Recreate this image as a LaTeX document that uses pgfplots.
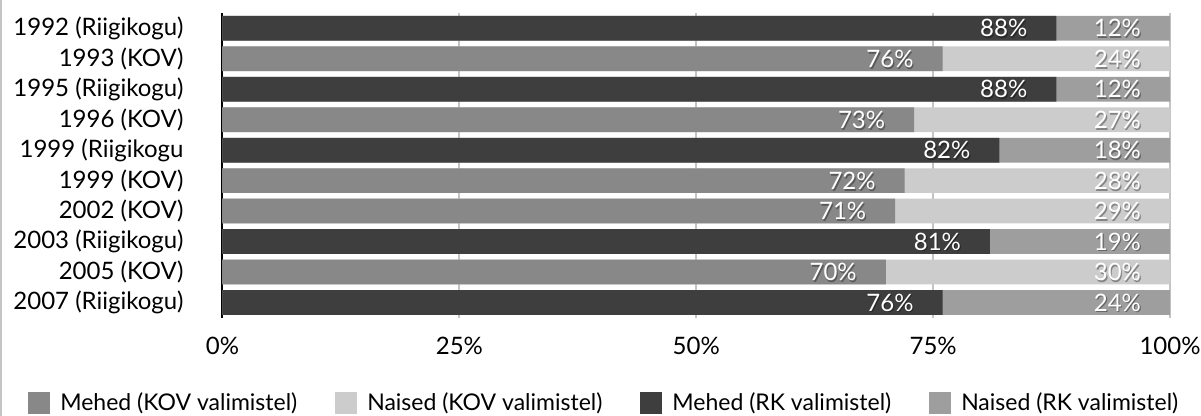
\documentclass[border=0pt]{standalone}
\usepackage{pgfplots}
\usepackage{pgfplotstable}
\pgfplotsset{compat=1.18}
\usepackage{fontspec}
\setmainfont{Lato}
\definecolor{rkm}{HTML}{3D3E3D}
\definecolor{kovm}{HTML}{878887}
\definecolor{kovw}{HTML}{CBCCCB}
\definecolor{rkw}{HTML}{9D9E9D}
\definecolor{gridc}{HTML}{C4C4C4}

\pgfplotstableread{
y x m
0 88 88
2 88 88
4 82 82
7 81 81
9 76 76
}\rkmen
\pgfplotstableread{
y x m
0 100 12
2 100 12
4 100 18
7 100 19
9 100 24
}\rkwomen
\pgfplotstableread{
y x m
1 76 76
3 73 73
5 72 72
6 71 71
8 70 70
}\kovmen
\pgfplotstableread{
y x m
1 100 24
3 100 27
5 100 28
6 100 29
8 100 30
}\kovwomen

\newcommand{\lfont}{\fontsize{11.5}{13}\selectfont}
\newcommand{\tfont}{\fontsize{12}{14}\selectfont}

\pgfplotsset{
  shadowlbl/.style={draw=none, fill=none, forget plot,
    nodes near coords={\pgfmathprintnumber[assume math mode=true]{\pgfplotspointmeta}\%},
    every node near coord/.append style={anchor=east, font=\tfont, text=black, opacity=0.35, xshift=-10.4pt, yshift=-0.9pt}},
  whitelbl/.style={draw=none, fill=none, forget plot,
    nodes near coords={\pgfmathprintnumber[assume math mode=true]{\pgfplotspointmeta}\%},
    every node near coord/.append style={anchor=east, font=\tfont, text=white, xshift=-11pt}},
}

\begin{document}
\begin{tikzpicture}
\path[use as bounding box] (0,0) rectangle (600.5pt,-208pt);
\draw[gridc, line width=0.8pt] (0.4pt,0) -- (0.4pt,-208pt);
\begin{axis}[
  at={(111.25pt,-6.55pt)}, anchor=north west,
  scale only axis, width=473.75pt, height=152.3pt,
  xmin=0, xmax=100, ymin=-0.5, ymax=9.5, y dir=reverse,
  xbar, bar width=12.35pt, bar shift=0pt,
  ytick={0,...,9},
  yticklabels={1992 (Riigikogu),1993 (KOV),1995 (Riigikogu),1996 (KOV),1999 (Riigikogu,1999 (KOV),2002 (KOV),2003 (Riigikogu),2005 (KOV),2007 (Riigikogu)},
  xtick={0,25,50,75,100},
  xticklabels={0\%,25\%,50\%,75\%,100\%},
  xmajorgrids, major grid style={gridc, line width=1pt},
  axis lines*=left,
  x axis line style={draw=none},
  y axis line style={black, line width=1pt},
  major tick length=0pt,
  tick label style={font=\tfont, black},
  yticklabel style={xshift=-16pt},
  xticklabel style={yshift=-6pt},
  point meta=explicit,
  clip=false,
  legend columns=4,
  legend image code/.code={\path[#1, draw=none] (0pt,-5.5pt) rectangle (11pt,5.5pt);},
  legend style={at={(0.404,-0.28)}, anchor=center, draw=none, fill=none,
    font=\lfont, /tikz/every even column/.append style={column sep=17pt},
    /tikz/every odd column/.append style={column sep=3pt}},
]
% bars
\addplot[fill=kovw, draw=none, forget plot] table[x=x, y=y, meta=m] {\kovwomen};
\addplot[fill=rkw, draw=none, forget plot] table[x=x, y=y, meta=m] {\rkwomen};
\addplot[fill=kovm, draw=none, forget plot] table[x=x, y=y, meta=m] {\kovmen};
\addplot[fill=rkm, draw=none, forget plot] table[x=x, y=y, meta=m] {\rkmen};
% label shadows and labels
\addplot[shadowlbl] table[x=x, y=y, meta=m] {\kovwomen};
\addplot[shadowlbl] table[x=x, y=y, meta=m] {\rkwomen};
\addplot[shadowlbl] table[x=x, y=y, meta=m] {\kovmen};
\addplot[shadowlbl] table[x=x, y=y, meta=m] {\rkmen};
\addplot[whitelbl] table[x=x, y=y, meta=m] {\kovwomen};
\addplot[whitelbl] table[x=x, y=y, meta=m] {\rkwomen};
\addplot[whitelbl] table[x=x, y=y, meta=m] {\kovmen};
\addplot[whitelbl] table[x=x, y=y, meta=m] {\rkmen};
\addlegendimage{fill=kovm, draw=none}\addlegendentry{Mehed (KOV valimistel)}
\addlegendimage{fill=kovw, draw=none}\addlegendentry{Naised (KOV valimistel)}
\addlegendimage{fill=rkm, draw=none}\addlegendentry{Mehed (RK valimistel)}
\addlegendimage{fill=rkw, draw=none}\addlegendentry{Naised (RK valimistel)}
\end{axis}
\end{tikzpicture}
\end{document}
